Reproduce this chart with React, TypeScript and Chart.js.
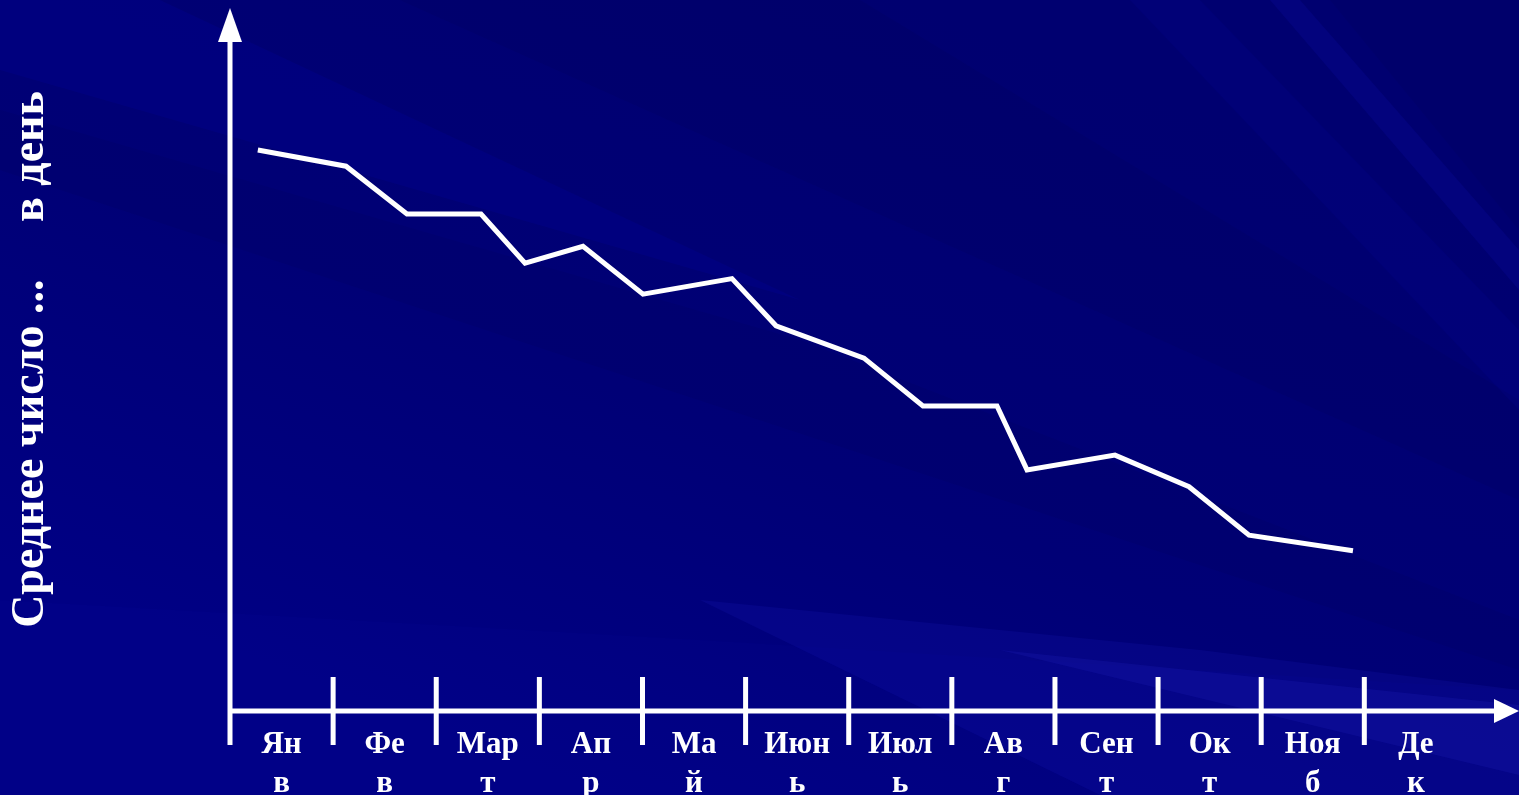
import React, { useEffect, useRef } from "react";
import { Chart, registerables } from "chart.js";

Chart.register(...registerables);

// Month labels split in two lines, as in the reference
const monthTop = ["Ян", "Фе", "Мар", "Ап", "Ма", "Июн", "Июл", "Ав", "Сен", "Ок", "Ноя", "Де"];
const monthBottom = ["в", "в", "т", "р", "й", "ь", "ь", "г", "т", "т", "б", "к"];

// Line vertices: position along the month axis (in months) and value
const pointMonths = [0.27, 1.125, 1.716, 2.434, 2.861, 3.423, 4.005, 4.868, 5.295, 6.148, 6.72, 7.438, 7.729, 8.582, 9.3, 9.882, 10.89];
const pointValues = [79.8, 77.5, 70.7, 70.7, 63.7, 66.1, 59.3, 61.5, 54.8, 50.2, 43.4, 43.4, 34.3, 36.4, 31.9, 25.0, 22.8];

const yTitle = "Среднее число ...     в день";

const SERIF = "'Liberation Serif'";

const backgroundPlugin = {
  id: "slideBackground",
  beforeDraw(chart: any) {
    const { ctx, width, height } = chart;
    ctx.save();
    const g = ctx.createLinearGradient(width * 0.6, 0, width * 0.4, height);
    g.addColorStop(0, "rgb(0,0,112)");
    g.addColorStop(0.55, "rgb(0,0,118)");
    g.addColorStop(1, "rgb(0,0,132)");
    ctx.fillStyle = g;
    ctx.fillRect(0, 0, width, height);

    const poly = (pts: number[][], color: string) => {
      ctx.beginPath();
      ctx.moveTo(pts[0][0], pts[0][1]);
      for (let i = 1; i < pts.length; i++) ctx.lineTo(pts[i][0], pts[i][1]);
      ctx.closePath();
      ctx.fillStyle = color;
      ctx.fill();
    };
    // lighter top-left area
    poly([[0, 0], [160, 0], [800, 300], [0, 70]], "rgba(0,0,150,0.3)");
    // darker bands across the middle / top right
    poly([[0, 110], [800, 340], [1519, 620], [1519, 670], [0, 170]], "rgba(0,0,70,0.1)");
    poly([[400, 0], [860, 0], [1519, 400], [1519, 500]], "rgba(0,0,70,0.12)");
    poly([[1330, 0], [1519, 0], [1519, 230]], "rgba(0,0,70,0.12)");
    // lighter lower bands
    poly([[0, 600], [700, 640], [1519, 690], [1519, 795], [0, 795]], "rgba(10,10,160,0.12)");
    poly([[700, 600], [1200, 650], [1519, 690], [1519, 795], [1100, 795]], "rgba(30,30,200,0.16)");
    poly([[1000, 650], [1519, 705], [1519, 775]], "rgba(50,50,220,0.14)");
    // top-right streaks
    poly([[1270, 0], [1300, 0], [1519, 250], [1519, 290]], "rgba(20,20,190,0.16)");
    poly([[1130, 0], [1200, 0], [1519, 330], [1519, 410]], "rgba(10,10,170,0.12)");
    ctx.restore();
  },
};

const axesPlugin = {
  id: "arrowAxes",
  beforeDatasetsDraw(chart: any) {
    const { ctx, scales } = chart;
    const xs = scales.x;
    const ys = scales.y;
    const x0 = xs.getPixelForValue(0);
    const y0 = ys.getPixelForValue(0);
    const yTop = ys.getPixelForValue(ys.max);
    const xEnd = xs.getPixelForValue(xs.max);
    ctx.save();
    ctx.strokeStyle = "#ffffff";
    ctx.fillStyle = "#ffffff";
    ctx.lineWidth = 5;
    ctx.lineCap = "butt";
    // y axis (extends below the x axis like a tick)
    ctx.beginPath();
    ctx.moveTo(x0, y0 + 34);
    ctx.lineTo(x0, yTop + 32);
    ctx.stroke();
    // x axis
    ctx.beginPath();
    ctx.moveTo(x0, y0);
    ctx.lineTo(xEnd - 22, y0);
    ctx.stroke();
    // month boundary ticks
    for (let m = 1; m < monthTop.length; m++) {
      const px = xs.getPixelForValue(m);
      ctx.beginPath();
      ctx.moveTo(px, y0 - 34);
      ctx.lineTo(px, y0 + 34);
      ctx.stroke();
    }
    // arrow heads
    ctx.beginPath();
    ctx.moveTo(x0, yTop);
    ctx.lineTo(x0 - 12, yTop + 34);
    ctx.lineTo(x0 + 12, yTop + 34);
    ctx.closePath();
    ctx.fill();
    ctx.beginPath();
    ctx.moveTo(xEnd, y0);
    ctx.lineTo(xEnd - 25, y0 - 12);
    ctx.lineTo(xEnd - 25, y0 + 12);
    ctx.closePath();
    ctx.fill();
    ctx.restore();
  },
};

export default function App() {
  const canvasRef = useRef<HTMLCanvasElement | null>(null);

  useEffect(() => {
    const canvas = canvasRef.current;
    if (!canvas) return;
    const chart = new Chart(canvas, {
      type: "line",
      data: {
        datasets: [
          {
            data: pointMonths.map((m, i) => ({ x: m, y: pointValues[i] })),
            borderColor: "#ffffff",
            borderWidth: 5,
            pointRadius: 0,
            tension: 0,
            borderJoinStyle: "miter",
            borderCapStyle: "butt",
            clip: false,
          } as any,
        ],
      },
      options: {
        responsive: false,
        animation: false,
        devicePixelRatio: 1,
        layout: { padding: { top: 8, right: 0, left: 0, bottom: 0 } },
        plugins: { legend: { display: false }, tooltip: { enabled: false } },
        scales: {
          x: {
            type: "linear",
            min: 0,
            max: 12.5,
            grid: { display: false },
            border: { display: false },
            afterBuildTicks: (scale: any) => {
              scale.ticks = monthTop.map((_, i) => ({ value: i + 0.5 }));
            },
            afterFit: (scale: any) => {
              scale.height = 84;
            },
            ticks: {
              autoSkip: false,
              maxRotation: 0,
              minRotation: 0,
              padding: 6,
              color: "#ffffff",
              font: { family: SERIF, size: 31, weight: 700, lineHeight: 1.27 },
              callback: (_v: any, i: number) => [monthTop[i], monthBottom[i]],
            },
          },
          y: {
            type: "linear",
            min: 0,
            max: 100,
            grid: { display: false },
            border: { display: false },
            ticks: { display: false },
            afterFit: (scale: any) => {
              scale.width = 230;
            },
            title: {
              display: true,
              text: yTitle,
              color: "#ffffff",
              font: { family: SERIF, size: 46, weight: 700, lineHeight: 1.2 },
              padding: { top: 4, bottom: 0 },
            },
          },
        },
      } as any,
      plugins: [backgroundPlugin, axesPlugin],
    });
    return () => chart.destroy();
  }, []);

  return (
    <div style={{ position: "absolute", left: 0, top: 0, width: 1519, height: 795, overflow: "hidden" }}>
      <canvas ref={canvasRef} width={1519} height={795} style={{ display: "block", width: 1519, height: 795 }} />
    </div>
  );
}
